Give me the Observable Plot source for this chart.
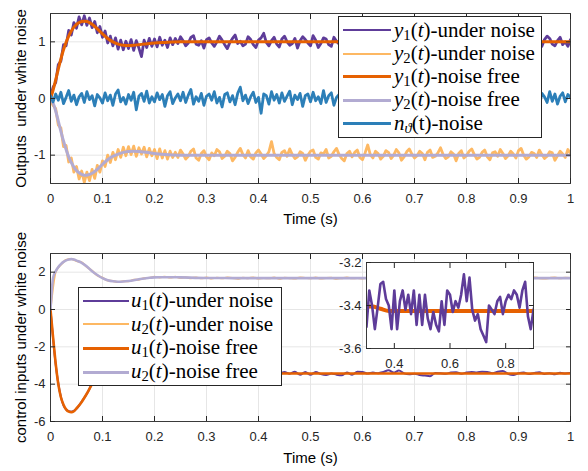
<!DOCTYPE html>
<html><head><meta charset="utf-8">
<script src="https://cdn.jsdelivr.net/npm/d3@7"></script>
<script src="https://cdn.jsdelivr.net/npm/@observablehq/plot@0.6"></script>
<style>
body{margin:0;background:#fff;}
#wrap{position:relative;width:588px;height:471px;overflow:hidden;}
#wrap svg{position:absolute;overflow:visible;}
.legend{position:absolute;background:#fff;border:1px solid #262626;box-sizing:border-box;font-family:"Liberation Serif","DejaVu Serif","Times New Roman",serif;font-size:21px;color:#000;}
.sw{position:absolute;height:0;}
.lt{position:absolute;white-space:nowrap;line-height:22px;height:22px;}
.lt sub{font-size:70%;vertical-align:-0.22em;line-height:0;}
</style></head><body><div id="wrap"></div>
<script>
// ---------- top panel data ----------
const dtTop = 0.005;
const nNoise = [0.05,-0.06,0.08,-0.03,0.11,-0.09,0.02,0.14,-0.05,0.06,
-0.11,0.03,0.09,-0.07,0.12,-0.02,0.05,-0.13,0.07,0.01,
-0.08,0.1,-0.04,0.06,-0.12,0.08,0.15,-0.06,0.02,-0.1,
0.07,-0.03,0.11,-0.2,0.04,0.09,-0.05,0.13,-0.08,0.03,
-0.06,0.1,-0.02,0.07,-0.14,0.05,0.12,-0.09,0.01,0.08,
-0.04,0.11,-0.07,0.06,0.16,-0.1,0.03,-0.05,0.09,-0.12,
0.04,0.08,-0.03,0.12,-0.08,0.02,-0.15,0.07,0.1,-0.06,
0.05,-0.11,0.09,0.2,-0.04,0.06,-0.09,0.03,0.11,-0.07,
0.02,-0.26,0.08,0.05,-0.1,0.12,-0.03,0.07,-0.08,0.1,
-0.05,0.04,0.13,-0.11,0.06,-0.02,0.09,-0.14,0.05,0.08,
-0.06,0.11,-0.04,0.03,-0.09,0.14,-0.07,0.05,0.1,-0.12,
0.02,0.07,-0.05,0.12,-0.08,0.04,-0.03,0.09,-0.11,0.06,
0.17,-0.06,0.03,-0.1,0.08,-0.04,0.11,-0.07,0.05,-0.13,
0.09,0.02,-0.08,0.12,-0.05,0.07,-0.1,0.04,0.1,-0.06,
0.03,-0.12,0.08,0.15,-0.09,0.05,-0.03,0.11,-0.07,0.02,
-0.11,0.08,-0.04,0.13,-0.06,0.09,-0.02,0.06,-0.1,0.12,
-0.05,0.03,-0.08,0.1,0.05,-0.12,0.07,-0.03,0.11,-0.07,
0.04,-0.09,0.14,-0.05,0.08,-0.11,0.02,0.09,-0.06,0.12,
-0.04,0.07,-0.1,0.05,-0.02,0.11,-0.08,0.06,-0.13,0.09,
0.03,-0.07,0.12,-0.05,0.08,-0.1,0.04,0.1,-0.06,0.07,0.02];

const y1Noisy = [0.02,0.2,0.28,0.6,0.66,0.95,0.93,1.2,1.12,1.34,
1.24,1.44,1.3,1.46,1.29,1.42,1.25,1.36,1.16,1.27,
1.08,1.19,0.98,1.1,0.93,1.07,0.87,1.03,0.86,1.01,
0.88,1.04,0.85,1.02,0.89,0.74,1.03,0.9,1.06,0.92,
1.05,0.91,1.08,0.94,1.03,0.9,1.07,0.95,
1.06,0.97,1.09,1.02,0.93,0.98,1.08,1.11,0.96,0.94,
1.02,0.89,1.04,1.07,0.98,0.92,1.0,1.1,1.03,0.95,
0.88,0.99,1.06,1.12,0.97,1.01,0.93,0.96,1.09,1.04,
0.95,0.9,1.03,1.07,1.15,0.99,0.93,1.02,1.08,0.96,
0.91,1.05,1.1,1.0,0.94,0.97,1.06,0.89,1.02,1.09,
1.04,0.98,0.93,1.11,1.03,0.9,0.97,1.07,1.05,0.95,
0.92,1.08,1.01,0.96,1.1,1.04,0.93,0.91,1.0,1.06,
1.09,0.96,0.88,1.02,1.07,0.99,0.94,1.05,1.12,1.0,
0.93,0.97,1.08,1.03,0.91,1.06,1.04,0.95,0.9,1.01,
1.1,1.05,0.94,0.98,1.07,0.92,0.96,1.09,1.03,0.94,
0.89,1.02,1.08,1.11,0.97,0.93,1.04,1.0,0.91,1.06,
1.03,0.95,1.09,0.98,0.92,1.05,1.08,0.97,0.94,1.01,
1.07,0.9,0.96,1.1,1.04,0.99,0.93,1.06,1.02,0.89,
0.95,1.08,1.05,0.97,1.09,1.01,0.94,0.91,1.03,1.07,
0.98,0.92,1.04,1.1,1.06,0.96,0.93,1.02,1.08,0.95,
1.0,0.92,1.04];

const y2Noisy = [-0.02,-0.12,-0.18,-0.47,-0.52,-0.85,-0.83,-1.12,-1.05,-1.3,
-1.2,-1.42,-1.28,-1.48,-1.3,-1.45,-1.25,-1.41,-1.18,-1.3,
-1.1,-1.2,-1.0,-1.13,-0.95,-1.08,-0.9,-1.04,-0.86,-1.01,
-0.85,-0.99,-0.84,-1.02,-0.87,-0.98,-0.86,-1.03,-0.88,-1.01,
-0.9,-1.06,-0.89,-1.05,-0.92,-1.07,-0.93,-1.04,
-0.95,-1.04,-0.91,-0.98,-1.07,-1.02,-0.93,-0.89,-1.05,-1.09,
-0.97,-0.92,-1.03,-1.08,-0.96,-1.01,-0.9,-0.94,-1.06,-1.02,
-0.93,-0.97,-1.1,-1.04,-0.95,-0.88,-0.99,-1.05,-0.92,-1.03,
-1.07,-0.96,-0.91,-0.98,-1.06,-1.01,-0.94,-0.76,-0.97,-1.04,
-1.08,-0.95,-0.92,-1.02,-0.89,-0.99,-1.06,-1.03,-0.94,-0.97,
-1.09,-1.0,-0.93,-0.91,-1.04,-1.07,-0.96,-0.98,-0.9,-1.05,
-1.02,-0.94,-0.88,-0.99,-1.06,-1.1,-0.97,-0.93,-1.03,-0.95,
-0.91,-1.04,-1.08,-0.96,-0.82,-0.99,-1.05,-0.93,-0.97,-1.07,
-1.02,-0.92,-0.95,-1.06,-1.0,-0.9,-0.96,-1.09,-1.03,-0.94,
-0.89,-0.98,-1.05,-1.01,-0.93,-0.97,-1.08,-0.95,-0.91,-1.04,
-1.02,-0.96,-0.87,-0.99,-1.06,-1.03,-0.94,-0.98,-1.1,-0.97,
-0.92,-1.05,-1.01,-0.93,-0.89,-0.99,-1.07,-1.04,-0.95,-0.91,
-1.03,-1.08,-0.96,-0.94,-1.02,-0.9,-0.97,-1.06,-1.01,-0.93,
-0.98,-1.05,-0.92,-0.88,-1.0,-1.07,-1.03,-0.95,-0.97,-1.04,
-0.91,-0.99,-1.06,-1.02,-0.94,-0.96,-1.09,-1.01,-0.93,-0.98,
-1.04,-0.9,-0.97];

const yT  = [0,0.005,0.01,0.015,0.02,0.025,0.03,0.035,0.04,0.045,0.05,0.055,0.06,0.065,0.07,0.075,0.08,0.09,0.1,0.11,0.12,0.13,0.14,0.15,0.16,0.17,0.18,0.2,0.22,0.25,0.3,1.0];
const y1Free = [0,0.15,0.33,0.52,0.70,0.86,0.99,1.10,1.19,1.26,1.31,1.34,1.36,1.365,1.36,1.34,1.31,1.23,1.14,1.06,1.0,0.96,0.94,0.935,0.94,0.95,0.96,0.98,0.99,1.0,1.0,1.0];
const y2Free = [0,-0.08,-0.22,-0.4,-0.58,-0.75,-0.9,-1.03,-1.13,-1.21,-1.27,-1.31,-1.34,-1.355,-1.355,-1.34,-1.32,-1.25,-1.16,-1.08,-1.02,-0.98,-0.95,-0.935,-0.93,-0.935,-0.945,-0.97,-0.99,-1.0,-1.0,-1.0];

// ---------- bottom panel data ----------
const dtU = 0.01;
const u1Noisy = [0,-2.95,-4.68,-5.36,-5.48,-5.32,-4.93,-4.52,-3.97,-3.62,
-3.27,-3.15,-3.02,-3.11,-3.13,-3.25,-3.27,-3.4,-3.39,-3.49,
-3.42,-3.5,-3.43,-3.47,-3.4,-3.46,-3.38,-3.45,-3.37,-3.44,
-3.50,-3.33,-3.40,-3.51,-3.41,-3.30,-3.29,-3.37,-3.40,-3.51,
-3.33,-3.51,-3.38,-3.33,-3.42,-3.35,-3.44,-3.33,-3.49,-3.35,
-3.49,-3.35,-3.46,-3.51,-3.43,-3.49,-3.52,-3.38,-3.49,-3.33,
-3.35,-3.43,-3.38,-3.41,-3.35,-3.255,-3.38,-3.27,-3.42,-3.47,
-3.44,-3.51,-3.54,-3.57,-3.40,-3.42,-3.44,-3.38,-3.36,-3.44,
-3.38,-3.35,-3.37,-3.33,-3.35,-3.41,-3.33,-3.29,-3.45,-3.51,
-3.42,-3.38,-3.46,-3.4,-3.36,-3.45,-3.41,-3.47,-3.39,-3.43,-3.4];
const u2Noisy = [0,2.02,2.4,2.65,2.71,2.6,2.52,2.28,2.07,1.83,
1.7,1.55,1.53,1.47,1.52,1.51,1.59,1.6,1.68,1.69,
1.75,1.72,1.76,1.71,1.75,1.7,1.73,1.68,1.72,1.67,1.71,
1.66,1.7,1.67,1.71,1.69,1.65,1.7,1.68,1.72,1.66,
1.69,1.67,1.71,1.65,1.7,1.68,1.66,1.71,1.69,1.67,
1.72,1.66,1.69,1.7,1.65,1.68,1.71,1.67,1.69,1.66,
1.7,1.68,1.72,1.67,1.65,1.69,1.71,1.66,1.68,1.7,
1.67,1.72,1.66,1.69,1.68,1.65,1.7,1.67,1.71,1.68,
1.66,1.69,1.72,1.67,1.7,1.65,1.68,1.71,1.66,1.69,
1.7,1.67,1.72,1.68,1.66,1.69,1.71,1.67,1.7,1.68];
const uT   = [0,0.005,0.01,0.015,0.02,0.025,0.03,0.035,0.04,0.045,0.05,0.06,0.07,0.08,0.09,0.1,0.11,0.12,0.13,0.14,0.15,0.16,0.17,0.18,0.19,0.2,0.21,0.22,0.23,0.25,0.3,0.32,0.35,0.38,0.4,1.0];
const u1Free = [0,-1.5,-2.9,-4.0,-4.7,-5.1,-5.35,-5.47,-5.5,-5.45,-5.3,-4.95,-4.5,-4.0,-3.6,-3.3,-3.15,-3.08,-3.08,-3.13,-3.2,-3.28,-3.35,-3.4,-3.43,-3.44,-3.44,-3.43,-3.42,-3.41,-3.405,-3.405,-3.415,-3.425,-3.425,-3.425];
const u2Free = [0,1.7,2.05,2.27,2.43,2.55,2.63,2.68,2.7,2.68,2.62,2.5,2.3,2.05,1.85,1.68,1.57,1.51,1.49,1.5,1.53,1.57,1.62,1.66,1.7,1.72,1.73,1.73,1.73,1.72,1.69,1.69,1.68,1.68,1.68,1.68];

// ---------- ticks / labels ----------
const xTicks = [0,0.1,0.2,0.3,0.4,0.5,0.6,0.7,0.8,0.9,1];
const yTicksTop = [-1,0,1];
const yTicksBot = [-6,-4,-2,0,2];
const xTicksInset = [0.4,0.6,0.8];
const yTicksInset = [-3.6,-3.4,-3.2];
const topLegend = [
  {html:'<i>y</i><sub>1</sub>(<i>t</i>)-under noise', c:"purple", w:2.5},
  {html:'<i>y</i><sub>2</sub>(<i>t</i>)-under noise', c:"lorange", w:2.5},
  {html:'<i>y</i><sub>1</sub>(<i>t</i>)-noise free', c:"orange", w:3.5},
  {html:'<i>y</i><sub>2</sub>(<i>t</i>)-noise free', c:"lav", w:3.5},
  {html:'<i>n</i><sub><i>ϑ</i></sub>(t)-noise', c:"blue", w:3}
];
const botLegend = [
  {html:'<i>u</i><sub>1</sub>(<i>t</i>)-under noise', c:"purple", w:2.5},
  {html:'<i>u</i><sub>2</sub>(<i>t</i>)-under noise', c:"lorange", w:2.5},
  {html:'<i>u</i><sub>1</sub>(<i>t</i>)-noise free', c:"orange", w:3},
  {html:'<i>u</i><sub>2</sub>(<i>t</i>)-noise free', c:"lav", w:3}
];
const C = {purple:"#5e3c99", lorange:"#fdb863", orange:"#e66101", lav:"#b2abd2", blue:"#2c7fb8"};

// ---------- helpers ----------
const fmt = d => String(+(+d).toFixed(2));
const series = (arr, dt) => arr.map((v,i) => ({t: i*dt, v}));
const pairs = (ts, vs) => ts.map((t,i) => ({t, v: vs[i]}));
const FONT = '"Liberation Sans", Arial, Helvetica, sans-serif';
const AX = "#262626";
function grids(xt, yt) {
  return [
    Plot.gridX(xt, {stroke:"#e6e6e6", strokeOpacity:1}),
    Plot.gridY(yt, {stroke:"#e6e6e6", strokeOpacity:1})
  ];
}
function boxFrame(xt, yt) {
  return [
    Plot.frame({stroke:"#3a3a3a"}),
    Plot.axisX(xt, {anchor:"bottom", tickSize:-5, tickPadding:15, tickFormat:fmt, label:null, stroke:AX, fill:AX}),
    Plot.axisX(xt, {anchor:"top", tickSize:-5, tickFormat:()=>"", label:null, stroke:AX}),
    Plot.axisY(yt, {anchor:"left", tickSize:-5, tickPadding:10, tickFormat:fmt, label:null, stroke:AX, fill:AX}),
    Plot.axisY(yt, {anchor:"right", tickSize:-5, tickFormat:()=>"", label:null, stroke:AX})
  ];
}
function axisLabels(xlab, ylab, xdy) {
  return [
    Plot.text([xlab], {text:d=>d, frameAnchor:"bottom", dy:xdy, lineAnchor:"middle", textAnchor:"middle", fontSize:15, fill:"#000"}),
    Plot.text([ylab], {text:d=>d, frameAnchor:"left", dx:-29, rotate:-90, textAnchor:"middle", lineAnchor:"middle", fontSize:15, fill:"#000"})
  ];
}
const wrap = document.getElementById("wrap");
function place(svg, left, top) { svg.style.left = left+"px"; svg.style.top = top+"px"; wrap.appendChild(svg); }

// ---------- top panel ----------
const topPlot = Plot.plot({
  width:588, height:235, marginLeft:50, marginRight:18, marginTop:13, marginBottom:52,
  style:{fontFamily:FONT, fontSize:"13px", background:"transparent", color:AX, overflow:"visible"},
  x:{domain:[0,1]}, y:{domain:[-1.5,1.5]},
  marks:[
    ...grids(xTicks, yTicksTop),
    Plot.line(series(y1Noisy, dtTop), {x:"t", y:"v", stroke:C.purple, strokeWidth:2.8, clip:true}),
    Plot.line(series(y2Noisy, dtTop), {x:"t", y:"v", stroke:C.lorange, strokeWidth:2.8, clip:true}),
    Plot.line(pairs(yT, y1Free), {x:"t", y:"v", stroke:C.orange, strokeWidth:3, curve:"monotone-x", clip:true}),
    Plot.line(pairs(yT, y2Free), {x:"t", y:"v", stroke:C.lav, strokeWidth:3, curve:"monotone-x", clip:true}),
    Plot.line(series(nNoise, dtTop), {x:"t", y:"v", stroke:C.blue, strokeWidth:2.8, clip:true}),
    ...boxFrame(xTicks, yTicksTop),
    ...axisLabels("Time (s)", "Outputs\u00a0 under white noise", 36)
  ]
});
place(topPlot, 0, 0);

// ---------- bottom panel ----------
const botPlot = Plot.plot({
  width:588, height:236, marginLeft:50, marginRight:18, marginTop:18, marginBottom:50,
  style:{fontFamily:FONT, fontSize:"13px", background:"transparent", color:AX, overflow:"visible"},
  x:{domain:[0,1]}, y:{domain:[-6,3]},
  marks:[
    ...grids(xTicks, yTicksBot),
    Plot.line(series(u1Noisy, dtU), {x:"t", y:"v", stroke:C.purple, strokeWidth:2, curve:"monotone-x", clip:true}),
    Plot.line(series(u2Noisy, dtU), {x:"t", y:"v", stroke:C.lorange, strokeWidth:2, curve:"monotone-x", clip:true}),
    Plot.line(pairs(uT, u1Free), {x:"t", y:"v", stroke:C.orange, strokeWidth:2.6, curve:"monotone-x", clip:true}),
    Plot.line(pairs(uT, u2Free), {x:"t", y:"v", stroke:C.lav, strokeWidth:2.6, curve:"monotone-x", clip:true}),
    ...boxFrame(xTicks, yTicksBot),
    ...axisLabels("Time (s)", "control inputs under white noise", 37)
  ]
});
place(botPlot, 0, 235);

// ---------- inset ----------
const inset = Plot.plot({
  width:217, height:120, marginLeft:40, marginRight:10, marginTop:12, marginBottom:22,
  style:{fontFamily:FONT, fontSize:"13px", background:"transparent", color:AX, overflow:"visible"},
  x:{domain:[0.3,0.9]}, y:{domain:[-3.6,-3.2]},
  marks:[
    Plot.frame({fill:"white"}),
    Plot.line(pairs(uT, u1Free), {x:"t", y:"v", stroke:C.orange, strokeWidth:4, curve:"monotone-x", clip:true}),
    Plot.line(series(u1Noisy, dtU), {x:"t", y:"v", stroke:C.purple, strokeWidth:2.6, clip:true}),
    ...boxFrame(xTicksInset, yTicksInset)
  ]
});
place(inset, 326, 250);

// ---------- legends ----------
function legend(items, left, top, w, h, y0, step, swL, swW, txL) {
  const d = document.createElement("div");
  d.className = "legend";
  Object.assign(d.style, {left:left+"px", top:top+"px", width:w+"px", height:h+"px"});
  items.forEach((it, i) => {
    const cy = y0 + i*step;
    const s = document.createElement("div");
    s.className = "sw";
    Object.assign(s.style, {left:swL+"px", width:swW+"px", top:(cy - it.w/2)+"px", borderTop:`${it.w}px solid ${C[it.c]}`});
    d.appendChild(s);
    const t = document.createElement("div");
    t.className = "lt";
    t.innerHTML = it.html;
    Object.assign(t.style, {left:txL+"px", top:(cy-12)+"px"});
    d.appendChild(t);
  });
  wrap.appendChild(d);
}
legend(topLegend, 338, 16, 204, 122, 13.5, 23.3, 4, 48, 55);
legend(botLegend, 78, 287, 204, 99, 13, 23.7, 4, 46, 52);
</script></body></html>
